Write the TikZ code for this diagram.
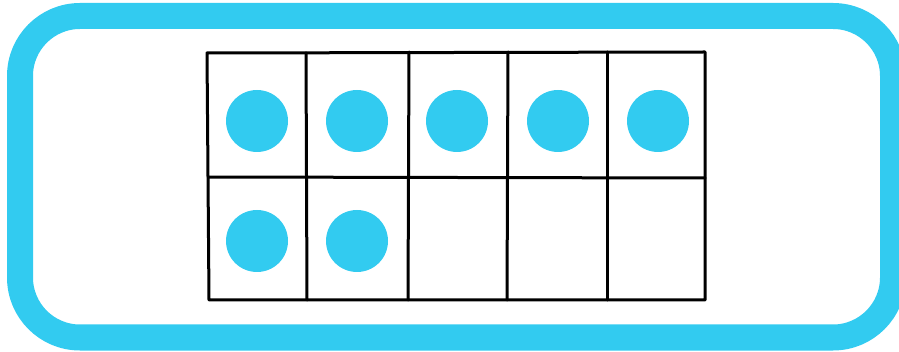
\documentclass[tikz,border=0pt]{standalone}
\definecolor{dotcyan}{RGB}{50,203,240}
\tikzset{
  frame/.style={draw=dotcyan, line width=26pt, rounded corners=60pt},
  gridline/.style={draw=black, line width=3pt, line cap=round, line join=round},
  counter/.style={circle, fill=dotcyan, minimum size=62pt, inner sep=0pt}
}
\begin{document}
\begin{tikzpicture}[x=1pt,y=-1pt]
\useasboundingbox (0,0) rectangle (899,352);
\draw[frame] (20,16) rectangle (893,337.5);
% grid
\draw[gridline] (207,53) -- (705,52) -- (705,300) -- (209,300) -- cycle;
\draw[gridline] (208,177) -- (705,178);
\draw[gridline] (306,53) -- (307,300);
\draw[gridline] (409,52) -- (408,300);
\draw[gridline] (508,52) -- (507,300);
\draw[gridline] (607,52) -- (607,300);
% counters
\node[counter] (c1) at (257,121) {};
\node[counter] (c2) at (357,121) {};
\node[counter] (c3) at (457,121) {};
\node[counter] (c4) at (558,121) {};
\node[counter] (c5) at (658,121) {};
\node[counter] (c6) at (257,241) {};
\node[counter] (c7) at (357,241) {};
\end{tikzpicture}
\end{document}
